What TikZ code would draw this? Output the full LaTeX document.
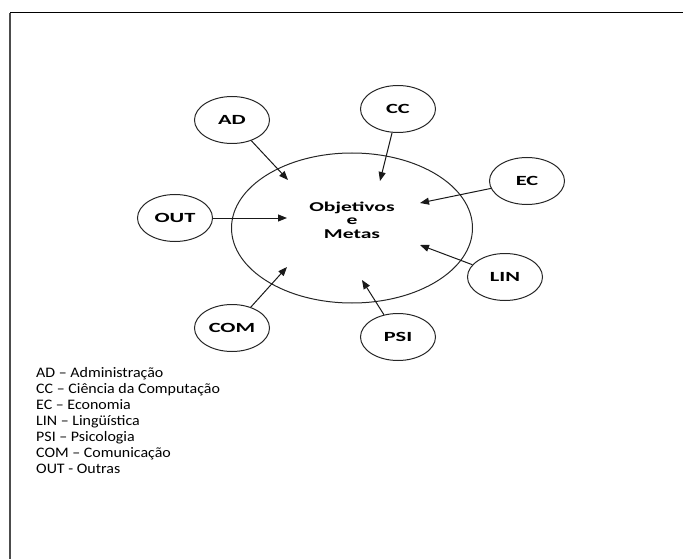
\documentclass[tikz,border=0pt]{standalone}
\usepackage{fontspec}
\setmainfont{Carlito}[FakeStretch=1.6]
\newfontfamily\legfont{Carlito}[FakeStretch=1.1]
\usetikzlibrary{shapes.geometric,arrows.meta}
\tikzset{
  area/.style={draw=black!85, line width=1pt, ellipse, inner sep=0pt,
    minimum width=75pt, minimum height=47pt,
    font=\fontsize{14}{15}\selectfont\bfseries},
  seta/.style={draw=black!90, line width=1pt, -{Triangle[length=9pt,width=7pt]}}
}
\begin{document}
\begin{tikzpicture}[x=1pt, y=-1pt]
    \useasboundingbox (0,0) rectangle (683,559);
    \draw[black!70, line width=2pt] (10,13) -- (10,559);
    \draw[line width=1pt] (10,13) -- (683,13);
    \node[draw=black!85, line width=1pt, ellipse, inner sep=0pt,
      minimum width=241pt, minimum height=150pt] (meta) at (352,228) {};
    \node[align=center, font=\fontsize{13.5}{13.5}\selectfont\bfseries] (txt) at (352,220)
      {Objetivos\\e\\Metas};
    \node[area] (ad) at (232,120) {AD};
    \node[area] (cc) at (398,109) {CC};
    \node[area] (ec) at (527,181) {EC};
    \node[area] (lin) at (505,277) {LIN};
    \node[area] (psi) at (398,337) {PSI};
    \node[area] (com) at (232,328) {COM};
    \node[area] (out) at (175,218) {OUT};
    \coordinate (pad) at (288,180);
    \coordinate (pcc) at (380,181);
    \coordinate (pec) at (420,203);
    \coordinate (plin) at (420,245);
    \coordinate (ppsi) at (362,280);
    \coordinate (pcom) at (287,267);
    \coordinate (pout) at (287,218);
    \draw[seta] (ad) -- (pad);
    \draw[seta] (cc) -- (pcc);
    \draw[seta] (ec) -- (pec);
    \draw[seta] (lin) -- (plin);
    \draw[seta] (psi) -- (ppsi);
    \draw[seta] (com) -- (pcom);
    \draw[seta] (out) -- (pout);
    \node[anchor=north west, align=left, inner sep=0pt,
      font=\legfont\fontsize{14.5}{16}\selectfont] (leg) at (36,367)
      {AD – Administração\\CC – Ciência da Computação\\EC – Economia\\
       LIN – Lingüística\\PSI – Psicologia\\COM – Comunicação\\OUT - Outras};
\end{tikzpicture}
\end{document}
